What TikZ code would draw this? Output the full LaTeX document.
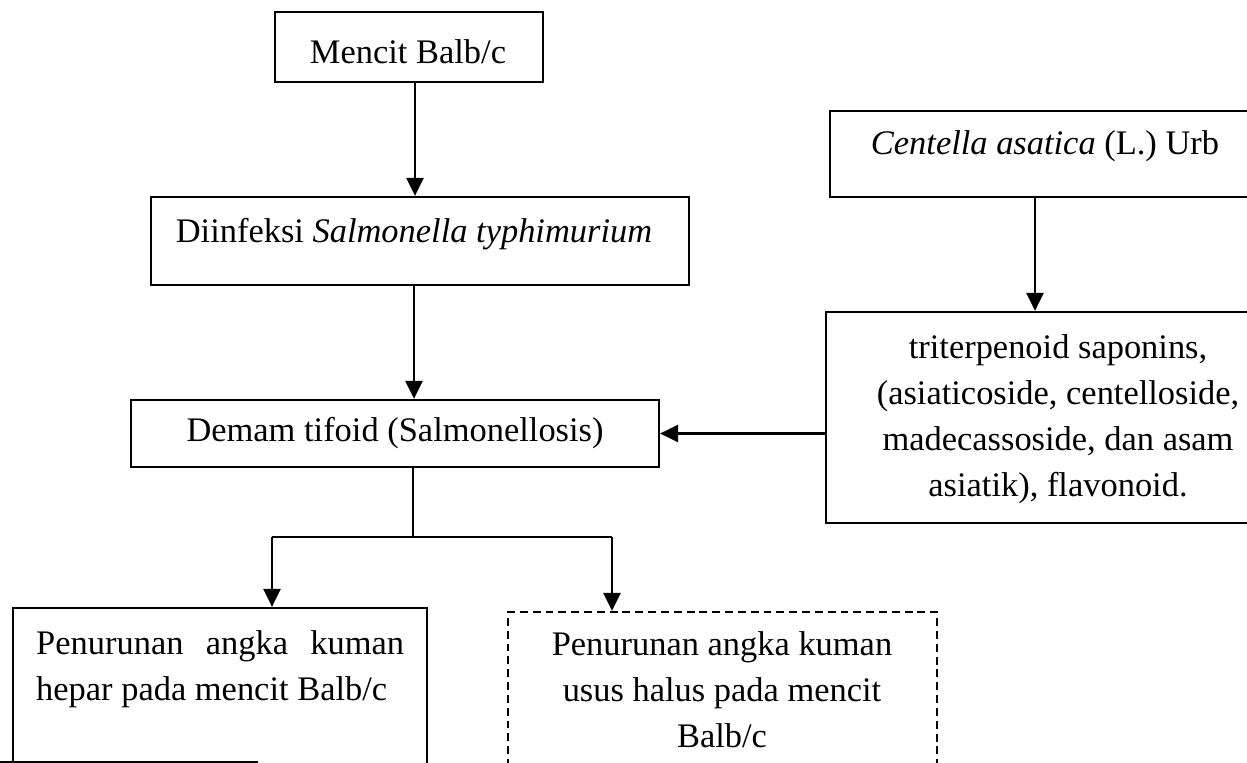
\documentclass[tikz,border=0pt]{standalone}
\usepackage{fontspec}
\setmainfont{Liberation Serif}
\usetikzlibrary{arrows.meta}

\tikzset{
  box/.style={draw, line width=1.3pt, inner sep=0pt},
  dashbox/.style={box, dash pattern=on 4.5pt off 2.8pt},
  lbl/.style={inner sep=0pt, font=\fontsize{19.6}{26.2}\selectfont},
}

\begin{document}
\begin{tikzpicture}[x=0.02cm, y=-0.02cm, line width=1.4pt,
    >={Triangle[length=0.36cm,width=0.34cm]}]

    % Frame
    \useasboundingbox (0,0) rectangle (1247,763);
    \clip (0,0) rectangle (1247,763);

    % Boxes
    \node[box, minimum width=5.36cm, minimum height=1.4cm] (mencit) at (409,47) {};
    \node[box, minimum width=10.76cm, minimum height=1.76cm] (infeksi) at (420,241) {};
    \node[box, minimum width=10.56cm, minimum height=1.34cm] (demam) at (395,433.5) {};
    \node[box, minimum width=8.8cm, minimum height=1.72cm] (centella) at (1050,154) {};
    \node[box, minimum width=8.88cm, minimum height=4.22cm] (triter) at (1048,417.5) {};
    \node[box, minimum width=8.28cm, minimum height=3.84cm] (hepar) at (220,704) {};
    \node[dashbox, minimum width=8.58cm, minimum height=3.76cm] (usus) at (722.5,706) {};

    % Texts
    \node[lbl, anchor=base] (tmencit) at (408,64) {Mencit Balb/c};
    \node[lbl, anchor=base] (tinfeksi) at (414,243) {Diinfeksi \textit{Salmonella typhimurium}};
    \node[lbl, anchor=base] (tdemam) at (395,441) {Demam tifoid (Salmonellosis)};
    \node[lbl, anchor=base] (tcentella) at (1045,155) {\textit{Centella asatica} (L.) Urb};
    \node[lbl, anchor=north, align=center] (ttriter) at (1058,333)
      {triterpenoid saponins,\\(asiaticoside, centelloside,\\madecassoside, dan asam\\asiatik), flavonoid.};
    \node[lbl, anchor=north west, text width=7.36cm, align=justify] (thepar) at (35,629)
      {\noindent Penurunan angka kuman\linebreak hepar pada mencit Balb/c};
    \node[lbl, anchor=north, align=center] (tusus) at (722,630)
      {Penurunan angka kuman\\usus halus pada mencit\\Balb/c};

    % Arrows
    \draw[->] ([xshift=0.12cm]mencit.south) -- ([xshift=0.12cm]mencit.south |- infeksi.north);
    \draw[->] ([xshift=-0.12cm]infeksi.south) -- ([xshift=-0.12cm]infeksi.south |- demam.north);
    \draw[->] ([xshift=-0.3cm]centella.south) -- ([xshift=-0.3cm]centella.south |- triter.north);
    \draw[->] (triter.west |- demam.east) -- (demam.east);

    % Split to the two results
    \coordinate (split) at (413,537);
    \coordinate (splitL) at (272,537);
    \coordinate (splitR) at (612,537);
    \draw (demam.south -| split) -- (split);
    \draw (splitL) -- (splitR);
    \draw[->] (splitL) -- (splitL |- hepar.north);
    \draw[->] (splitR) -- (splitR |- usus.north);

    % stray edge at the bottom
    \draw (0,762) -- (258,762);
\end{tikzpicture}
\end{document}
